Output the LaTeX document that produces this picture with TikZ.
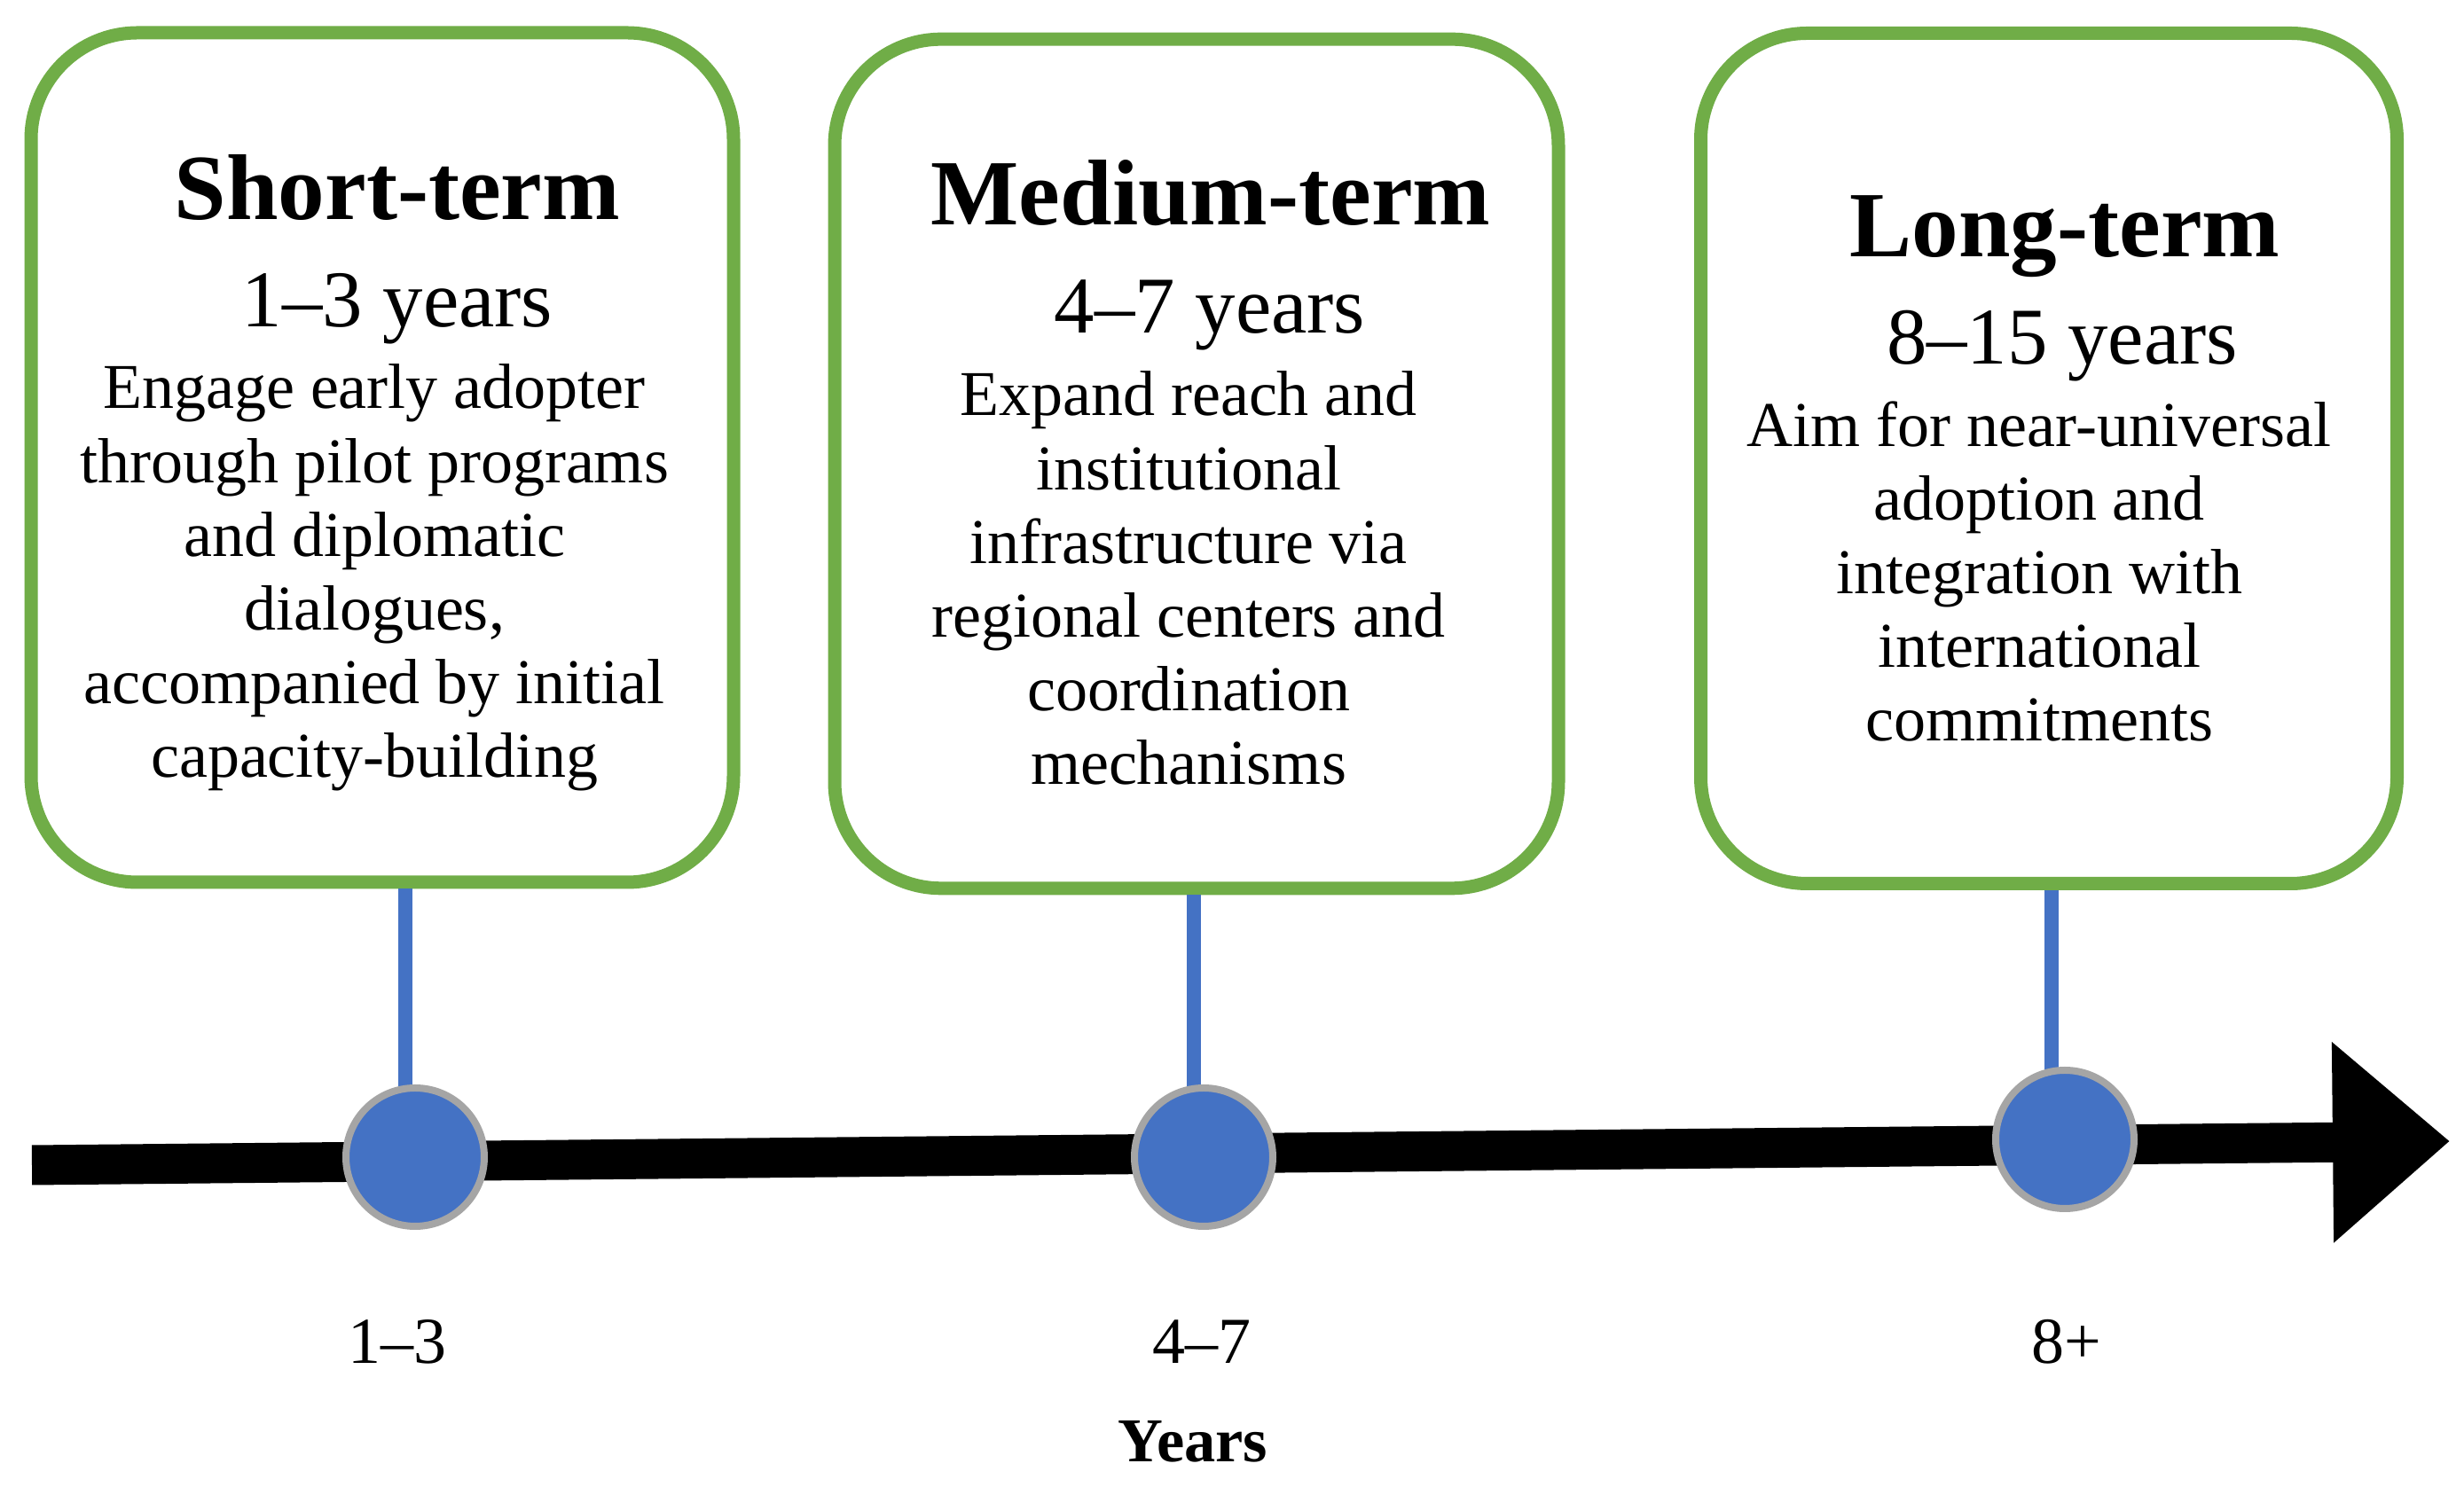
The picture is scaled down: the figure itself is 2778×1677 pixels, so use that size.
\documentclass[tikz,border=0pt]{standalone}
\usepackage{fontspec}
\setmainfont{Liberation Serif}
\usetikzlibrary{arrows.meta}
\definecolor{termgreen}{HTML}{70AD47}
\definecolor{dotblue}{HTML}{4472C4}
\definecolor{dotgray}{HTML}{A5A5A5}

\begin{document}
\begin{tikzpicture}[x=0.25pt,y=-0.25pt,every node/.style={inner sep=0pt}]
    \tikzset{
      termbox/.style={draw=termgreen,line width=3.75pt,rounded corners=30pt,fill=white},
      yeardot/.style={circle,draw=dotgray,line width=2pt,fill=dotblue,minimum size=39pt},
      stemline/.style={draw=dotblue,line width=4pt},
      ttl/.style={font=\fontsize{26.3}{30}\selectfont\bfseries,anchor=base},
      yrs/.style={font=\fontsize{22.7}{26}\selectfont,anchor=base},
      txt/.style={font=\fontsize{18}{20.8}\selectfont,align=center,anchor=base},
      ticklabel/.style={font=\fontsize{18.5}{20}\selectfont,anchor=base}
    }
    \useasboundingbox (0,0) rectangle (2778,1677);

    % time axis
    \coordinate (tstart) at (36,1314);
    \coordinate (tend) at (2762,1287);
    \draw[line width=11.25pt,-{Triangle[length=33pt,width=54.5pt]}] (tstart) -- (tend);

    \node[termbox,minimum width=198pt,minimum height=239.5pt] (short) at (431,516) {};
    \node[termbox,minimum width=204pt,minimum height=239.4pt] (medium) at (1349,523) {};
    \node[termbox,minimum width=196.25pt,minimum height=239.75pt] (long) at (2310,517) {};

    % stem ends, hidden under the dots
    \coordinate (s1) at (457,1300);
    \coordinate (s2) at (1346,1300);
    \coordinate (s3) at (2313,1280);
    \draw[stemline] (s1 |- short.south) -- (s1);
    \draw[stemline] (s2 |- medium.south) -- (s2);
    \draw[stemline] (s3 |- long.south) -- (s3);

    \node[yeardot] (c1) at (468,1305) {};
    \node[yeardot] (c2) at (1357,1305) {};
    \node[yeardot] (c3) at (2328,1285) {};

    % box texts (base of a text block = its last line)
    \node[ttl] (shortttl) at (448,248) {Short-term};
    \node[yrs] (shortyrs) at (448,369) {1--3 years};
    \node[txt] (shorttxt) at (422,877) {Engage early adopter\\through pilot programs\\and diplomatic\\dialogues,\\accompanied by initial\\capacity-building};

    \node[ttl] (mediumttl) at (1365,254) {Medium-term};
    \node[yrs] (mediumyrs) at (1364,376) {4--7 years};
    \node[txt] (mediumtxt) at (1340,885) {Expand reach and\\institutional\\infrastructure via\\regional centers and\\coordination\\mechanisms};

    \node[ttl] (longttl) at (2328,290) {Long-term};
    \node[yrs] (longyrs) at (2325,411) {8--15 years};
    \node[txt] (longtxt) at (2299,836) {Aim for near-universal\\adoption and\\integration with\\international\\commitments};

    % axis labels
    \node[ticklabel] (t1) at (448,1538) {1--3};
    \node[ticklabel] (t2) at (1355,1538) {4--7};
    \node[ticklabel] (t3) at (2330,1538) {8+};
    \node[ticklabel,font=\fontsize{17.6}{20}\selectfont\bfseries] (yearslabel) at (1345,1649) {Years};
\end{tikzpicture}
\end{document}
